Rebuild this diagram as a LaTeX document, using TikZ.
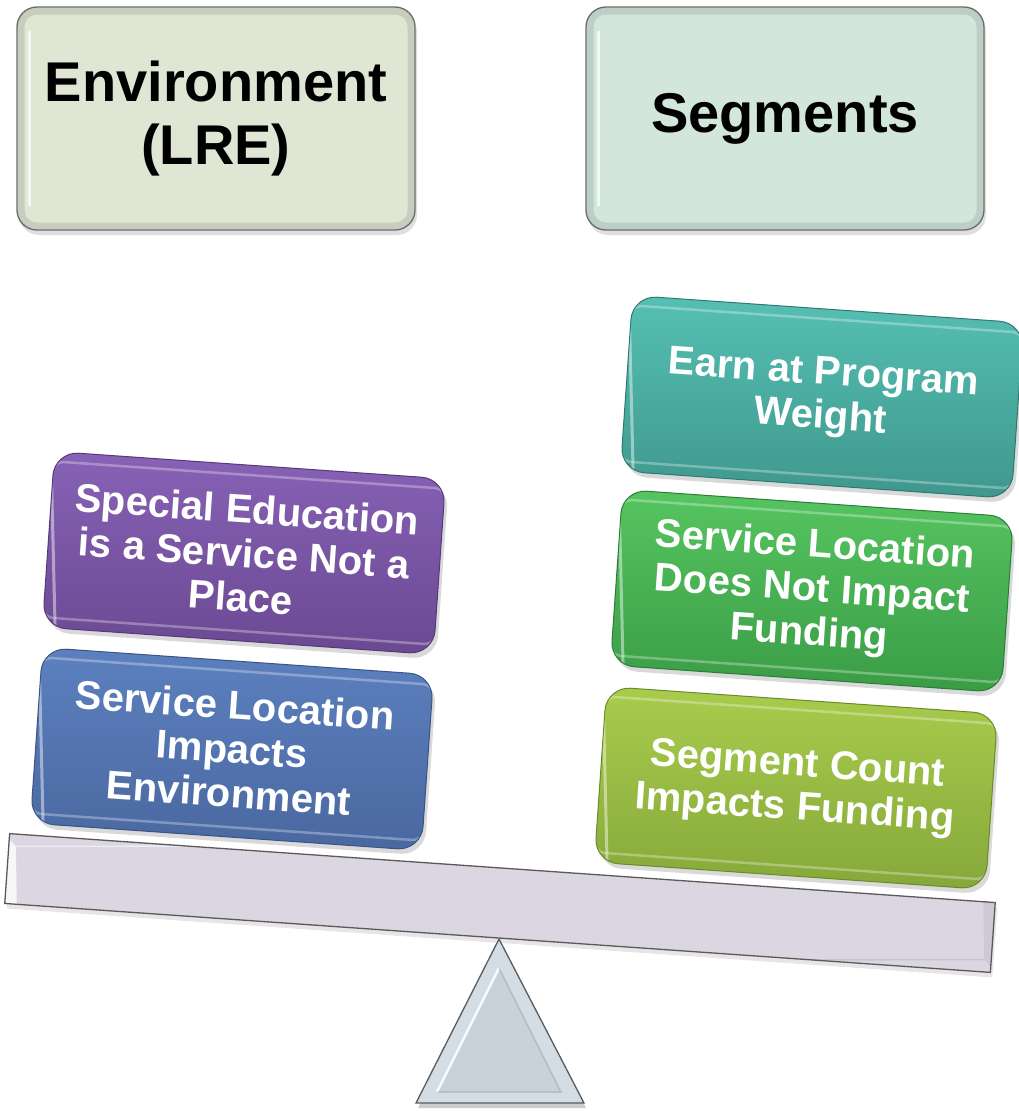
\documentclass[tikz,border=0pt]{standalone}
\usepackage{fontspec}
\setmainfont{Liberation Sans}
\usetikzlibrary{shadows}
\definecolor{envface}{HTML}{DFE6D3}
\definecolor{segface}{HTML}{D3E6DB}
\definecolor{hdrline}{HTML}{6A6A6A}
\definecolor{purT}{HTML}{8862B6}
\definecolor{purB}{HTML}{6A4992}
\definecolor{purD}{HTML}{553A7A}
\definecolor{bluT}{HTML}{5C80BF}
\definecolor{bluB}{HTML}{4A68A0}
\definecolor{bluD}{HTML}{3A5585}
\definecolor{teaT}{HTML}{56C0B3}
\definecolor{teaB}{HTML}{3F978D}
\definecolor{teaD}{HTML}{2E7A72}
\definecolor{grnT}{HTML}{56C560}
\definecolor{grnB}{HTML}{3A9C46}
\definecolor{grnD}{HTML}{2D7C37}
\definecolor{ylgT}{HTML}{A9CC4D}
\definecolor{ylgB}{HTML}{86A83A}
\definecolor{ylgD}{HTML}{6C8A2B}
\definecolor{beamface}{HTML}{DBD6E2}
\definecolor{triface}{HTML}{D2DDE5}
\definecolor{edge}{HTML}{5A5A5A}
\begin{document}
\begin{tikzpicture}[x=1pt,y=-1pt,
  bevel/.style={path picture={
    \draw[white,opacity=0.3,line width=2.5pt,rounded corners=14pt]
      ([xshift=9pt,yshift=-9pt]path picture bounding box.north west) rectangle
      ([xshift=-9pt,yshift=9pt]path picture bounding box.south east);
    \draw[white,opacity=0.45,line width=3pt]
      ([xshift=11pt,yshift=-26pt]path picture bounding box.north west) --
      ([xshift=11pt,yshift=26pt]path picture bounding box.south west);}},
  hdrbevel/.style={path picture={
    \draw[black,opacity=0.10,line width=7pt,rounded corners=16pt]
      ([xshift=4pt,yshift=-4pt]path picture bounding box.north west) rectangle
      ([xshift=-4pt,yshift=4pt]path picture bounding box.south east);
    \draw[white,opacity=0.7,line width=3pt]
      ([xshift=12pt,yshift=-24pt]path picture bounding box.north west) --
      ([xshift=12pt,yshift=24pt]path picture bounding box.south west);}},
  hdr/.style={rounded corners=20pt, minimum width=398pt, minimum height=223pt,
    draw=hdrline, line width=1.3pt, align=center,
    font=\bfseries\fontsize{56}{63}\selectfont,
    drop shadow={opacity=0.25, shadow xshift=2pt, shadow yshift=-5pt}, hdrbevel},
  tile/.style n args={3}{rounded corners=24pt, minimum width=392pt, minimum height=176pt,
    rotate=-4, align=center, text=white, inner sep=0pt,
    font=\bfseries\fontsize{40}{44}\selectfont,
    top color=#1, bottom color=#2, draw=#3, line width=1pt,
    drop shadow={opacity=0.3, shadow xshift=3pt, shadow yshift=-5pt}, bevel},
  beambox/.style={minimum width=988pt, minimum height=70pt, rotate=-4,
    fill=beamface, draw=edge, line width=1.3pt, inner sep=0pt,
    drop shadow={opacity=0.2, shadow xshift=2pt, shadow yshift=-5pt},
    path picture={
      \draw[white,opacity=0.55,line width=1.5pt]
        ([xshift=12pt,yshift=-12pt]path picture bounding box.north west) --
        ([xshift=-12pt,yshift=-12pt]path picture bounding box.north east);
      \draw[black,opacity=0.08,line width=1.5pt]
        ([xshift=12pt,yshift=12pt]path picture bounding box.south west) --
        ([xshift=-12pt,yshift=12pt]path picture bounding box.south east);
      \fill[white,opacity=0.8]
        (path picture bounding box.north west) --
        ([xshift=12pt,yshift=-12pt]path picture bounding box.north west) --
        ([xshift=12pt,yshift=12pt]path picture bounding box.south west) --
        (path picture bounding box.south west) -- cycle;
      \fill[black,opacity=0.06]
        (path picture bounding box.north east) --
        ([xshift=-12pt,yshift=-12pt]path picture bounding box.north east) --
        ([xshift=-12pt,yshift=12pt]path picture bounding box.south east) --
        (path picture bounding box.south east) -- cycle;}}
]
\useasboundingbox (0,0) rectangle (1019,1111);

% header boxes
\node[hdr, fill=envface] (env) at (216,118.5) {Environment\\(LRE)};
\node[hdr, fill=segface] (seg) at (785,118.5) {Segments};

% fulcrum
\coordinate (apex) at (499,939);
\coordinate (bl) at (416,1103);
\coordinate (br) at (584,1103);
\coordinate (iapex) at (499,968);
\coordinate (ibl) at (437,1092);
\coordinate (ibr) at (561,1092);
\fill[black,opacity=0.2] ([shift={(2,5)}]apex) -- ([shift={(2,5)}]br) -- ([shift={(2,5)}]bl) -- cycle;
\draw[fill=triface, draw=edge, line width=1.3pt] (apex) -- (br) -- (bl) -- cycle;
\fill[black,opacity=0.05] (iapex) -- (ibr) -- (ibl) -- cycle;
\draw[white,opacity=0.85,line width=2.5pt] (ibl) -- (iapex);
\draw[black,opacity=0.12,line width=1.5pt] (iapex) -- (ibr) -- (ibl);

% beam
\node[beambox] (beam) at (500,903) {};

% left pan
\node[tile={purT}{purB}{purD}] (sped) at (244,553) {Special Education\\is a Service Not a\\Place};
\node[tile={bluT}{bluB}{bluD}] (svcenv) at (232,749) {Service Location\\Impacts\\Environment};

% right pan
\node[tile={teaT}{teaB}{teaD}] (earn) at (822,397) {Earn at Program\\Weight};
\node[tile={grnT}{grnB}{grnD}] (svcfund) at (812,591) {Service Location\\Does Not Impact\\Funding};
\node[tile={ylgT}{ylgB}{ylgD}] (segcount) at (796,788) {Segment Count\\Impacts Funding};
\end{tikzpicture}
\end{document}
